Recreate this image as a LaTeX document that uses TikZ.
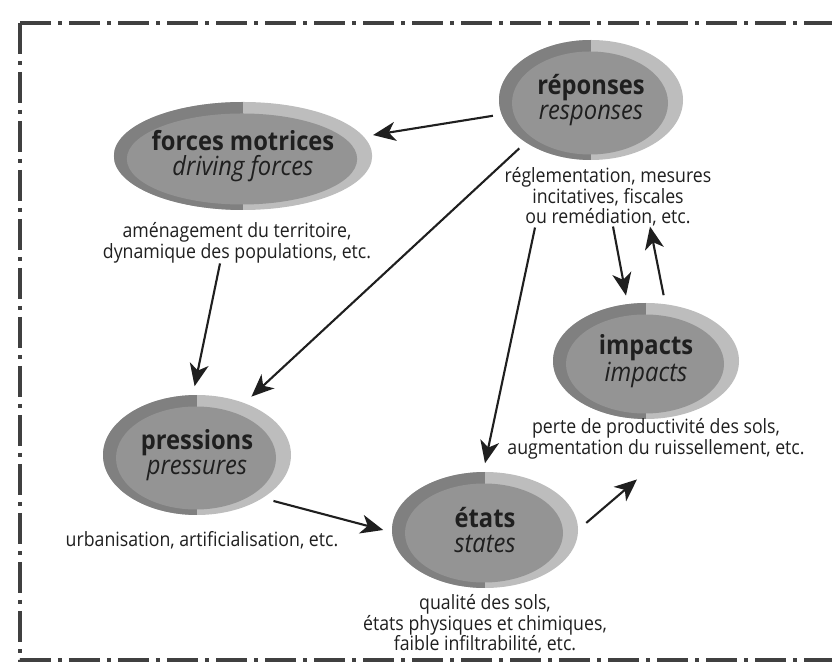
\documentclass[tikz,border=0pt]{standalone}
\usepackage{fontspec}
\setmainfont{Open Sans}[FakeStretch=0.9]
\usepackage{xcolor}
\usepackage{tikz}
\usetikzlibrary{shapes.geometric,arrows.meta,calc}

\definecolor{ringdark}{gray}{0.50}
\definecolor{ringlight}{gray}{0.74}
\definecolor{innergray}{gray}{0.58}
\definecolor{inkgray}{gray}{0.12}

\begin{document}
\begin{tikzpicture}[
    blob/.style={ellipse, fill=ringlight, inner sep=0pt, outer sep=5pt, align=center, text=inkgray,
        font=\fontsize{15}{14.5}\selectfont,
        path picture={
            \fill[ringdark] (path picture bounding box.south west) rectangle (path picture bounding box.north);
            \fill[innergray] let \p1=(path picture bounding box.center), \p2=(path picture bounding box.north east) in
                ($(\p1)+(-0.02,-0.06)$) ellipse ({\x2-\x1-0.28cm} and {\y2-\y1-0.17cm});
        }},
    desc/.style={inner sep=0pt, align=center, text=inkgray, font=\fontsize{11.2}{11.6}\selectfont},
    arrow/.style={line width=1.2pt, draw=inkgray, -{Stealth[length=4.5mm, width=3.8mm, inset=1.3mm]}},
    border/.style={line width=2pt, draw=black!75, dash pattern=on 0.62cm off 0.14cm on 0.08cm off 0.14cm}
]
\useasboundingbox (0,0) rectangle (16.64,13.34);

% Frame
\draw[border] (0.40,12.88) -- (16.64,12.88);
\draw[border] (0.40,12.88) -- (0.40,0.14) -- (16.64,0.14);

% Ellipses
\node[blob, minimum width=3.68cm, minimum height=2.40cm] (reponses) at (11.82, 11.34) {\textbf{réponses}\\\textit{responses}};
\node[blob, minimum width=3.64cm, minimum height=2.16cm] (forces) at (4.86, 10.22) {\textbf{forces motrices}\\\textit{driving forces}};
\node[blob, minimum width=3.72cm, minimum height=2.32cm] (impacts) at (12.92, 6.12) {\textbf{impacts}\\\textit{impacts}};
\node[blob, minimum width=3.76cm, minimum height=2.40cm] (pressions) at (3.94, 4.24) {\textbf{pressions}\\\textit{pressures}};
\node[blob, minimum width=3.72cm, minimum height=2.32cm] (etats) at (9.70, 2.74) {\textbf{états}\\\textit{states}};

% Descriptions
\node[desc] (respdesc) at (12.16, 9.40) {réglementation, mesures\\incitatives, fiscales\\ou remédiation, etc.};
\node[desc] (forcesdesc) at (4.74, 8.48) {aménagement du territoire,\\dynamique des populations, etc.};
\node[desc] (impdesc) at (13.12, 4.56) {perte de productivité des sols,\\augmentation du ruissellement, etc.};
\node[desc] (presdesc) at (4.04, 2.54) {urbanisation, artificialisation, etc.};
\node[desc] (etatdesc) at (9.70, 0.86) {qualité des sols,\\états physiques et chimiques,\\faible infiltrabilité, etc.};

% Arrows
\draw[arrow] (reponses) -- (forces);
\draw[arrow] (reponses.214) -- (pressions.47);
\draw[arrow] ([xshift=-1.46cm, yshift=-0.02cm]respdesc.south) -- (etats.north);
\draw[arrow] ([xshift=0.1cm]respdesc.south) -- (impacts.107);
\draw[arrow] (impacts.75) -- ([xshift=0.84cm]respdesc.south);
\draw[arrow] ([xshift=-0.34cm]forcesdesc.south) -- (pressions.92);
\draw[arrow] (pressions.-31) -- (etats.west);
\draw[arrow] (etats.4) -- ([xshift=-0.38cm, yshift=-0.4cm]impdesc.south);

\end{tikzpicture}
\end{document}
